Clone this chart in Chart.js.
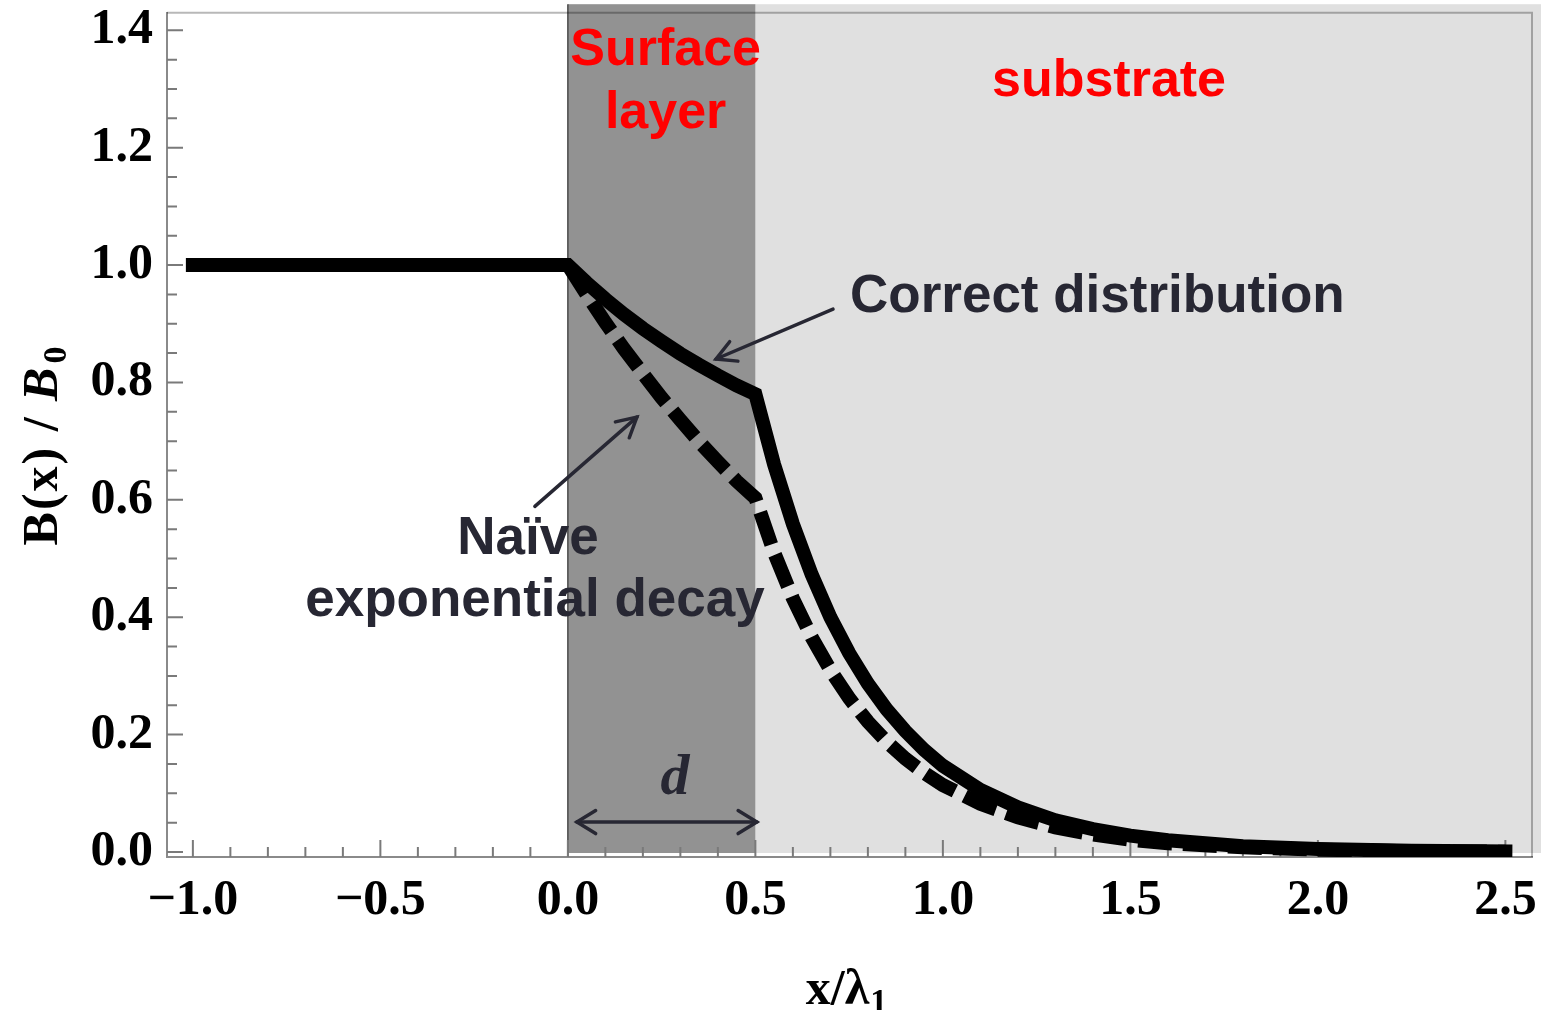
<!DOCTYPE html>
<html>
<head>
<meta charset="utf-8">
<script src="https://cdn.jsdelivr.net/npm/chart.js@4/dist/chart.umd.min.js"></script>
<style>
  html, body { margin: 0; padding: 0; background: #fff; }
  #wrap { width: 1543px; height: 1010px; position: relative; }
</style>
</head>
<body>
<div id="wrap"><canvas id="c"></canvas></div>
<script>
// Field profile B(x)/B0 across a surface layer (0 < x < d) on a substrate.

// Correct distribution (solid)
const correctX = [-1.0, 0.0, 0.05, 0.1, 0.15, 0.2, 0.25, 0.3, 0.35, 0.4, 0.45, 0.5,
  0.55, 0.6, 0.65, 0.7, 0.75, 0.8, 0.85, 0.9, 0.95, 1.0, 1.1, 1.2, 1.3, 1.4, 1.5, 1.6, 1.8, 2.0, 2.25, 2.5];
const correctY = [1.0, 1.0, 0.970, 0.942, 0.916, 0.892, 0.870, 0.849, 0.830, 0.812, 0.795, 0.780,
  0.660, 0.559, 0.473, 0.400, 0.339, 0.287, 0.243, 0.206, 0.174, 0.147, 0.106, 0.076, 0.054, 0.039, 0.028, 0.020, 0.010, 0.005, 0.002, 0.001];

// Naive exponential decay (dashed)
const naiveX = [0.0, 0.05, 0.1, 0.15, 0.2, 0.25, 0.3, 0.35, 0.4, 0.45, 0.5,
  0.55, 0.6, 0.65, 0.7, 0.75, 0.8, 0.85, 0.9, 0.95, 1.0, 1.1, 1.2, 1.3, 1.4, 1.5, 1.6, 1.8, 2.0, 2.25, 2.5];
const naiveY = [1.0, 0.950, 0.902, 0.857, 0.815, 0.774, 0.736, 0.699, 0.665, 0.632, 0.603,
  0.510, 0.432, 0.366, 0.310, 0.262, 0.222, 0.188, 0.159, 0.135, 0.114, 0.082, 0.059, 0.042, 0.030, 0.021, 0.015, 0.008, 0.004, 0.0015, 0.0005];

// Axis ticks
const xTickValues = [-1.0, -0.5, 0.0, 0.5, 1.0, 1.5, 2.0, 2.5];
const yTickValues = [0.0, 0.2, 0.4, 0.6, 0.8, 1.0, 1.2, 1.4];

// Regions
const layerStart = 0.0;
const layerEnd = 0.5;
const regionLabels = { layer: ['Surface', 'layer'], substrate: 'substrate' };
const curveLabels = { correct: 'Correct distribution', naive: ['Naïve', 'exponential decay'], thickness: 'd' };

const fmt = v => v.toFixed(1).replace('-', '\u2212');
const TEXT_DARK = '#272733';
const SANS = '"Liberation Sans", Arial, sans-serif';
const SERIF = '"Liberation Serif", "Times New Roman", serif';

function arrowHead(ctx, tx, ty, fx, fy, len, ang) {
  const a = Math.atan2(ty - fy, tx - fx);
  ctx.beginPath();
  ctx.moveTo(tx - len * Math.cos(a - ang), ty - len * Math.sin(a - ang));
  ctx.lineTo(tx, ty);
  ctx.lineTo(tx - len * Math.cos(a + ang), ty - len * Math.sin(a + ang));
  ctx.stroke();
}

const decorations = {
  id: 'decorations',
  beforeDatasetsDraw(chart) {
    const { ctx, chartArea: a, scales: { x, y } } = chart;
    const x0 = x.getPixelForValue(layerStart);
    const x1 = x.getPixelForValue(layerEnd);
    const top = a.top - 8.5;
    const bot = y.getPixelForValue(0) + 1;
    ctx.save();
    // substrate and surface layer bands
    ctx.fillStyle = '#e0e0e0';
    ctx.fillRect(x1, top, a.right + 9 - x1, bot - top);
    ctx.fillStyle = '#929292';
    ctx.fillRect(x0, top, x1 - x0, bot - top);
    ctx.strokeStyle = '#4a4a4a';
    ctx.lineWidth = 1.5;
    ctx.beginPath();
    ctx.moveTo(x0, top);
    ctx.lineTo(x0, a.bottom);
    ctx.stroke();
    // frame top and right
    ctx.strokeStyle = 'rgba(0,0,0,0.28)';
    ctx.lineWidth = 2;
    ctx.beginPath();
    ctx.moveTo(a.left, a.top);
    ctx.lineTo(a.right, a.top);
    ctx.lineTo(a.right, a.bottom);
    ctx.stroke();
    // inward tick marks
    ctx.strokeStyle = '#7a7a7a';
    ctx.lineWidth = 2;
    ctx.beginPath();
    for (let i = -10; i <= 25; i++) {
      const v = i / 10;
      const px = x.getPixelForValue(v);
      const major = i % 5 === 0;
      ctx.moveTo(px, a.bottom);
      ctx.lineTo(px, a.bottom - (major ? 17 : 10));
    }
    for (let i = 0; i <= 28; i++) {
      const v = i / 20;
      const py = y.getPixelForValue(v);
      const major = i % 4 === 0;
      ctx.moveTo(a.left, py);
      ctx.lineTo(a.left + (major ? 16 : 10), py);
    }
    ctx.stroke();
    ctx.restore();
  },
  afterDatasetsDraw(chart) {
    const { ctx, scales: { x, y } } = chart;
    const X = v => x.getPixelForValue(v);
    const Y = v => y.getPixelForValue(v);
    ctx.save();
    // region labels
    ctx.fillStyle = '#ff0000';
    ctx.font = 'bold 52px ' + SANS;
    ctx.textAlign = 'center';
    ctx.textBaseline = 'alphabetic';
    const cx = (X(layerStart) + X(layerEnd)) / 2;
    ctx.fillText(regionLabels.layer[0], cx + 4, 65);
    ctx.fillText(regionLabels.layer[1], cx + 4, 128);
    ctx.fillText(regionLabels.substrate, 1109, 96);

    // curve labels
    ctx.fillStyle = TEXT_DARK;
    ctx.font = 'bold 53px ' + SANS;
    ctx.textAlign = 'left';
    ctx.fillText(curveLabels.correct, 850, 312);
    ctx.textAlign = 'center';
    ctx.fillText(curveLabels.naive[0], 528, 554);
    ctx.fillText(curveLabels.naive[1], 535, 616);

    // arrows
    ctx.strokeStyle = TEXT_DARK;
    ctx.lineWidth = 3.5;
    ctx.lineCap = 'round';
    ctx.lineJoin = 'miter';
    const arrows = [
      { from: [0.707, 0.925], to: [0.395, 0.840] },
      { from: [-0.088, 0.589], to: [0.184, 0.741] }
    ];
    arrows.forEach(ar => {
      const fx = X(ar.from[0]), fy = Y(ar.from[1]);
      const tx = X(ar.to[0]), ty = Y(ar.to[1]);
      ctx.beginPath();
      ctx.moveTo(fx, fy);
      ctx.lineTo(tx, ty);
      ctx.stroke();
      arrowHead(ctx, tx, ty, fx, fy, 22, 0.5);
    });

    // layer thickness d
    const dy = Y(0.051);
    const dl = X(0.024), dr = X(0.504);
    ctx.beginPath();
    ctx.moveTo(dl, dy);
    ctx.lineTo(dr, dy);
    ctx.stroke();
    arrowHead(ctx, dl, dy, dr, dy, 22, 0.55);
    arrowHead(ctx, dr, dy, dl, dy, 22, 0.55);
    ctx.font = 'italic bold 58px ' + SERIF;
    ctx.textAlign = 'center';
    ctx.fillText(curveLabels.thickness, 675, 794);
    ctx.restore();
  },
  afterDraw(chart) {
    const { ctx } = chart;
    ctx.save();
    ctx.fillStyle = '#000';
    ctx.textBaseline = 'alphabetic';
    // x axis title: x / λ1
    const big = 'bold 50px ' + SERIF;
    const sub = 'bold 34px ' + SERIF;
    ctx.font = big;
    const p1 = 'x/\u03bb';
    const w1 = ctx.measureText(p1).width;
    ctx.font = sub;
    const w2 = ctx.measureText('1').width;
    let sx = 846 - (w1 + w2) / 2;
    ctx.font = big;
    ctx.textAlign = 'left';
    ctx.fillText(p1, sx, 1004);
    ctx.font = sub;
    ctx.fillText('1', sx + w1 + 1, 1012);

    // y axis title: B(x) / B0 (rotated)
    ctx.translate(57, 446);
    ctx.rotate(-Math.PI / 2);
    const parts = [
      { t: 'B(x) / ', f: 'bold 50px ' + SERIF, dy: 0 },
      { t: 'B', f: 'italic bold 50px ' + SERIF, dy: 0 },
      { t: '0', f: 'bold 34px ' + SERIF, dy: 9 }
    ];
    ctx.letterSpacing = '2px';
    let total = 0;
    parts.forEach(p => { ctx.font = p.f; p.w = ctx.measureText(p.t).width; total += p.w; });
    let px = -total / 2;
    parts.forEach(p => {
      ctx.font = p.f;
      ctx.fillText(p.t, px, p.dy);
      px += p.w + (p.t === 'B' ? 2 : 0);
    });
    ctx.restore();
  }
};

const tickFont = { family: SERIF, weight: 'bold', size: 50 };

new Chart(document.getElementById('c'), {
  type: 'line',
  data: {
    datasets: [
      {
        label: 'Naïve exponential decay',
        data: naiveX.map((v, i) => ({ x: v, y: naiveY[i] })),
        borderColor: '#000',
        borderWidth: 14,
        borderDash: [34, 11],
        borderCapStyle: 'butt',
        borderJoinStyle: 'miter',
        pointRadius: 0,
        tension: 0,
        fill: false
      },
      {
        label: 'Correct distribution',
        data: correctX.map((v, i) => ({ x: v, y: correctY[i] })),
        borderColor: '#000',
        borderWidth: 14,
        borderCapStyle: 'square',
        borderJoinStyle: 'miter',
        pointRadius: 0,
        tension: 0,
        fill: false
      }
    ]
  },
  options: {
    responsive: true,
    maintainAspectRatio: false,
    animation: false,
    events: [],
    layout: { padding: { top: 12.7, right: 11, left: 0, bottom: 0 } },
    plugins: { legend: { display: false }, tooltip: { enabled: false } },
    scales: {
      x: {
        type: 'linear',
        min: -1.069,
        max: 2.571,
        afterBuildTicks: s => { s.ticks = xTickValues.map(v => ({ value: v })); },
        afterFit: s => { s.height = 153; s.paddingLeft = 0; s.paddingRight = 0; },
        ticks: { font: tickFont, color: '#000', padding: 14, maxRotation: 0, autoSkip: false, callback: v => fmt(v) },
        grid: { drawOnChartArea: false, drawTicks: false },
        border: { color: '#8a8a8a', width: 2 }
      },
      y: {
        type: 'linear',
        min: -0.0085,
        max: 1.430,
        afterBuildTicks: s => { s.ticks = yTickValues.map(v => ({ value: v })); },
        afterFit: s => { s.width = 167; s.paddingTop = 0; s.paddingBottom = 0; },
        ticks: { font: tickFont, color: '#000', padding: 14, autoSkip: false, callback: v => fmt(v) },
        grid: { drawOnChartArea: false, drawTicks: false },
        border: { color: '#8a8a8a', width: 2 }
      }
    }
  },
  plugins: [decorations]
});
</script>
</body>
</html>
